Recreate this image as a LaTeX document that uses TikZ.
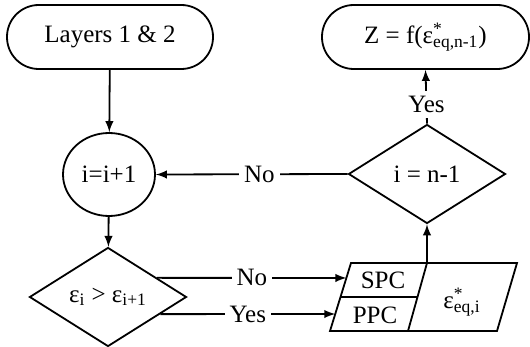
\documentclass[tikz,border=0pt]{standalone}
\usepackage{fontspec}
\setmainfont{Liberation Serif}
\usetikzlibrary{calc, shapes.geometric, positioning}

\begin{document}
\begin{tikzpicture}[>=latex, x=0.5pt, y=-0.5pt, line width=0.9pt,
    font=\fontsize{12.5}{15}\selectfont,
    term/.style={draw, rectangle, rounded corners=15.9pt, minimum width=103pt, minimum height=32pt},
    test/.style={draw, diamond, aspect=1.6, inner sep=0pt, minimum width=78.5pt, minimum height=49.5pt},
    lbl/.style={fill=white, inner sep=2.5pt}]
    \useasboundingbox (0,0) rectangle (530,347);

    % 1. Các khối
    \node[term] (lay) at (110,37) {Layers 1 \& 2};
    \node[term, minimum width=103.5pt] (res) at (425.5,37) {Z = f(ε\rlap{\textsuperscript{*}}\textsubscript{eq,n-1})};
    \node[draw, ellipse, inner sep=0pt, minimum width=46pt, minimum height=41.5pt] (inc) at (109,174.5) {i=i+1};
    \node[test] (cmp) at (108,297) {ε\textsubscript{i} > ε\textsubscript{i+1}};
    \node[test] (last) at (427,174) {i = n-1};

    % 2. Hình bình hành
    \coordinate (pTL) at (351,263);
    \coordinate (pTR) at (517,263);
    \coordinate (pBR) at (497,331);
    \coordinate (pBL) at (330,331);
    \coordinate (pTop) at (427,263);
    \coordinate (pBot) at (408,331);
    \draw (pTL) -- (pTR) -- (pBR) -- (pBL) -- cycle;
    \draw (pTop) -- (pBot);
    \draw ($(pTL)!0.5!(pBL)$) -- ($(pTop)!0.5!(pBot)$);
    \node (spc) at (383,280) {SPC};
    \node (ppc) at (375,315) {PPC};
    \node (eqv) at (462,302) {ε\rlap{\textsuperscript{*}}\textsubscript{eq,i}};

    % 3. Mũi tên
    \draw[->] (lay) -- (inc);
    \draw[->] (inc) -- (cmp);
    \draw[->] ($(cmp.east)!0.38!(cmp.north)$) -- node[lbl] {No} ($(pTL)!0.22!(pBL)$);
    \draw[->] ($(cmp.east)!0.34!(cmp.south)$) -- node[lbl] {Yes} ($(pTL)!0.75!(pBL)$);
    \draw[->] (pTop) -- (last.south);
    \draw[->] (last.west) -- node[lbl, pos=0.46] {No} (inc.east);
    \draw[->] (last.north) -- node[lbl, pos=0.35] {Yes} (res.south);
\end{tikzpicture}
\end{document}
